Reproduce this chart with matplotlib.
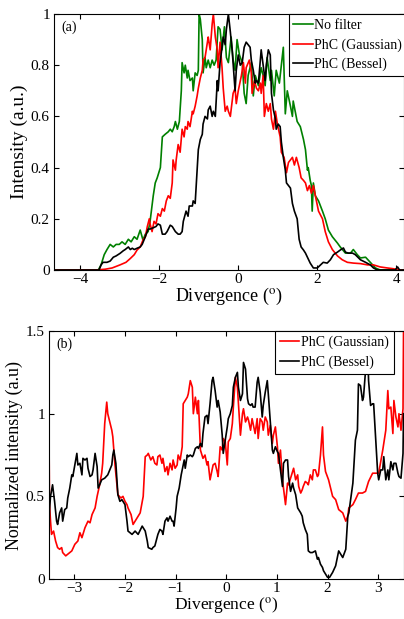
import numpy as np
import matplotlib
matplotlib.use('Agg')
import matplotlib.pyplot as plt

plt.rcParams['font.family'] = 'Liberation Serif'
plt.rcParams['mathtext.fontset'] = 'stix'

# (a) beam profiles, divergence in degrees
x_nofilter = [-4.66, -3.54, -3.47, -3.39, -3.32, -3.24, -3.16, -3.09, -3.01, -2.94, -2.86, -2.78, -2.71,
              -2.63, -2.56, -2.48, -2.41, -2.35, -2.28, -2.23, -2.15, -2.10, -2.05, -1.97, -1.92, -1.85,
              -1.77, -1.72, -1.67, -1.62, -1.59, -1.54, -1.49, -1.44, -1.42, -1.37, -1.34, -1.29, -1.27,
              -1.22, -1.16, -1.14, -1.09, -1.04, -1.01, -0.99, -0.96, -0.91, -0.89, -0.84, -0.81, -0.76,
              -0.71, -0.66, -0.61, -0.56, -0.51, -0.46, -0.41, -0.35, -0.30, -0.25, -0.18, -0.13, -0.08,
              -0.03, 0.03, 0.10, 0.15, 0.20, 0.25, 0.33, 0.38, 0.43, 0.51, 0.58, 0.63, 0.68, 0.73, 0.81,
              0.84, 0.91, 0.96, 1.04, 1.09, 1.14, 1.19, 1.24, 1.32, 1.37, 1.39, 1.44, 1.49, 1.57, 1.65,
              1.70, 1.75, 1.77, 1.82, 1.85, 1.87, 1.90, 1.95, 2.03, 2.13, 2.20, 2.28, 2.38, 2.51, 2.58,
              2.71, 2.84, 2.91, 3.01, 3.09, 3.22, 3.34, 3.47, 3.59, 4.18]
y_nofilter = [0, 0, 0.02, 0.06, 0.08, 0.10, 0.09, 0.10, 0.10, 0.11, 0.10, 0.12, 0.11,
              0.13, 0.12, 0.156, 0.117, 0.14, 0.15, 0.19, 0.29, 0.34, 0.36, 0.40, 0.52, 0.53,
              0.54, 0.55, 0.54, 0.56, 0.58, 0.55, 0.58, 0.70, 0.81, 0.77, 0.80, 0.75, 0.78,
              0.74, 0.75, 0.70, 0.77, 0.76, 0.78, 1.0, 0.98, 0.90, 0.77, 0.83, 0.79, 0.82,
              0.79, 0.82, 0.80, 0.82, 0.95, 0.94, 0.86, 0.95, 0.83, 0.81, 0.91, 0.82, 0.78,
              0.90, 0.84, 0.81, 0.69, 0.65, 0.76, 0.81, 0.68, 0.76, 0.72, 0.79, 0.76, 0.72, 0.83, 0.74,
              0.78, 0.68, 0.78, 0.73, 0.80, 0.87, 0.61, 0.70, 0.64, 0.60, 0.66, 0.62, 0.58, 0.56, 0.51,
              0.47, 0.39, 0.40, 0.35, 0.33, 0.23, 0.34, 0.29, 0.27, 0.23, 0.20, 0.156, 0.13, 0.105, 0.09,
              0.066, 0.066, 0.08, 0.06, 0.047, 0.05, 0.03, 0.008, 0, 0]

x_gauss_a = [-4.66, -3.62, -3.37, -3.19, -2.99, -2.84, -2.73, -2.63, -2.56, -2.48, -2.41, -2.35, -2.30,
             -2.25, -2.23, -2.18, -2.13, -2.08, -2.03, -1.97, -1.92, -1.87, -1.82, -1.77, -1.72, -1.67,
             -1.65, -1.59, -1.57, -1.52, -1.47, -1.42, -1.37, -1.34, -1.29, -1.27, -1.22, -1.16, -1.14,
             -1.09, -1.04, -1.01, -0.96, -0.91, -0.89, -0.84, -0.78, -0.76, -0.71, -0.66, -0.63, -0.58,
             -0.53, -0.51, -0.46, -0.41, -0.38, -0.33, -0.28, -0.25, -0.20, -0.13, -0.08, -0.05, 0.00,
             0.08, 0.13, 0.18, 0.20, 0.28, 0.33, 0.35, 0.41, 0.46, 0.51, 0.56, 0.58, 0.63, 0.66, 0.71,
             0.76, 0.81, 0.84, 0.89, 0.94, 0.99, 1.06, 1.09, 1.16, 1.22, 1.27, 1.32, 1.37, 1.42, 1.47,
             1.54, 1.59, 1.65, 1.70, 1.75, 1.80, 1.85, 1.90, 1.95, 2.03, 2.13, 2.20, 2.28, 2.38, 2.51,
             2.63, 2.76, 2.91, 3.09, 3.27, 3.42, 3.59, 3.77, 3.92, 4.10, 4.18]
y_gauss_a = [0, 0, 0.003, 0.008, 0.02, 0.03, 0.045, 0.06, 0.078, 0.09, 0.117, 0.13, 0.17,
             0.20, 0.18, 0.15, 0.19, 0.18, 0.22, 0.21, 0.24, 0.23, 0.27, 0.29, 0.28, 0.34,
             0.43, 0.39, 0.43, 0.49, 0.46, 0.55, 0.52, 0.56, 0.55, 0.58, 0.56, 0.62, 0.61,
             0.64, 0.68, 0.71, 0.75, 0.78, 0.82, 0.83, 0.89, 0.91, 0.86, 0.96, 1.0, 0.91,
             0.86, 0.79, 0.89, 0.79, 0.71, 0.62, 0.64, 0.62, 0.60, 0.69, 0.71, 0.65, 0.70,
             0.76, 0.81, 0.73, 0.79, 0.82, 0.77, 0.69, 0.74, 0.71, 0.70, 0.73, 0.69, 0.76, 0.60, 0.65,
             0.62, 0.65, 0.59, 0.55, 0.62, 0.57, 0.52, 0.46, 0.44, 0.38, 0.42, 0.43, 0.44, 0.41, 0.44,
             0.40, 0.36, 0.35, 0.34, 0.31, 0.33, 0.30, 0.33, 0.29, 0.23, 0.20, 0.15, 0.11, 0.08, 0.055,
             0.04, 0.03, 0.027, 0.025, 0.02, 0.02, 0.012, 0.008, 0.005, 0, 0]

x_bessel_a = [-4.66, -3.52, -3.47, -3.42, -3.32, -3.24, -3.16, -3.09, -2.99, -2.91, -2.86, -2.78, -2.73,
              -2.68, -2.63, -2.56, -2.48, -2.43, -2.35, -2.28, -2.23, -2.15, -2.08, -2.03, -1.97, -1.92,
              -1.85, -1.80, -1.72, -1.67, -1.59, -1.52, -1.47, -1.42, -1.39, -1.32, -1.27, -1.24, -1.16,
              -1.14, -1.09, -1.04, -1.01, -0.96, -0.91, -0.89, -0.84, -0.78, -0.76, -0.71, -0.66, -0.63,
              -0.58, -0.53, -0.51, -0.46, -0.41, -0.38, -0.33, -0.30, -0.25, -0.20, -0.15, -0.08, -0.05,
              0.00, 0.05, 0.10, 0.15, 0.20, 0.25, 0.30, 0.33, 0.38, 0.43, 0.46, 0.51, 0.56, 0.58, 0.63,
              0.68, 0.71, 0.76, 0.81, 0.84, 0.89, 0.94, 0.96, 1.01, 1.06, 1.09, 1.14, 1.19, 1.22, 1.27,
              1.32, 1.37, 1.42, 1.49, 1.54, 1.59, 1.65, 1.70, 1.75, 1.82, 1.90, 2.00, 2.08, 2.15, 2.25,
              2.33, 2.41, 2.51, 2.58, 2.66, 2.71, 2.78, 2.89, 2.96, 3.09, 3.22, 3.34, 3.42, 3.52, 3.97,
              4.03, 4.08, 4.18]
y_bessel_a = [0, 0, 0.02, 0.03, 0.03, 0.035, 0.05, 0.055, 0.065, 0.075, 0.08, 0.09, 0.08,
              0.085, 0.08, 0.085, 0.09, 0.10, 0.13, 0.16, 0.16, 0.165, 0.17, 0.18, 0.175, 0.14,
              0.14, 0.15, 0.175, 0.17, 0.15, 0.14, 0.14, 0.15, 0.19, 0.23, 0.21, 0.25, 0.25,
              0.27, 0.26, 0.39, 0.47, 0.51, 0.53, 0.57, 0.60, 0.59, 0.625, 0.64, 0.60, 0.62,
              0.60, 0.74, 0.70, 0.81, 0.87, 0.91, 0.88, 0.94, 1.0, 0.93, 0.85, 0.70, 0.78,
              0.84, 0.80, 0.81, 0.87, 0.89, 0.88, 0.87, 0.82, 0.78, 0.73, 0.74, 0.73, 0.82, 0.86, 0.80,
              0.74, 0.80, 0.86, 0.84, 0.69, 0.625, 0.59, 0.55, 0.57, 0.56, 0.50, 0.44, 0.39, 0.34, 0.33,
              0.32, 0.26, 0.23, 0.20, 0.12, 0.09, 0.078, 0.066, 0.05, 0.027, 0.008, 0.008, 0.02, 0.03, 0.027,
              0.04, 0.06, 0.07, 0.078, 0.086, 0.07, 0.066, 0.066, 0.06, 0.04, 0.03, 0.02, 0.008, 0, 0,
              0.012, 0, 0]

# (b) normalized profiles
x_gauss_b = [-3.50, -3.49, -3.47, -3.45, -3.41, -3.37, -3.33, -3.29, -3.25, -3.23, -3.17, -3.13, -3.09,
             -3.05, -2.99, -2.93, -2.89, -2.85, -2.79, -2.73, -2.69, -2.65, -2.59, -2.55, -2.50, -2.46,
             -2.44, -2.40, -2.36, -2.34, -2.30, -2.26, -2.24, -2.20, -2.16, -2.14, -2.08, -2.04, -2.00,
             -1.96, -1.94, -1.88, -1.84, -1.80, -1.76, -1.70, -1.64, -1.60, -1.56, -1.54, -1.49, -1.45,
             -1.41, -1.37, -1.35, -1.31, -1.27, -1.25, -1.21, -1.17, -1.15, -1.11, -1.07, -1.05, -1.01,
             -0.97, -0.95, -0.91, -0.87, -0.85, -0.81, -0.77, -0.75, -0.71, -0.67, -0.65, -0.61, -0.57,
             -0.55, -0.51, -0.48, -0.46, -0.42, -0.38, -0.36, -0.32, -0.28, -0.26, -0.22, -0.18, -0.16,
             -0.12, -0.08, -0.06, -0.02, 0.02, 0.04, 0.08, 0.12, 0.14, 0.18, 0.22, 0.24, 0.28, 0.32,
             0.34, 0.38, 0.42, 0.44, 0.48, 0.51, 0.53, 0.57, 0.61, 0.63, 0.67, 0.71, 0.73, 0.77, 0.81,
             0.83, 0.87, 0.91, 0.93, 0.97, 1.01, 1.03, 1.07, 1.11, 1.17, 1.21, 1.23, 1.27, 1.33, 1.37,
             1.41, 1.43, 1.47, 1.50, 1.52, 1.56, 1.60, 1.62, 1.66, 1.70, 1.72, 1.76, 1.80, 1.82, 1.86,
             1.90, 1.92, 1.96, 2.02, 2.10, 2.16, 2.22, 2.30, 2.36, 2.40, 2.42, 2.50, 2.55, 2.61, 2.69,
             2.75, 2.81, 2.89, 2.95, 3.01, 3.09, 3.15, 3.19, 3.21, 3.25, 3.29, 3.31, 3.35, 3.39, 3.41,
             3.45, 3.49, 3.50]
y_gauss_b = [0.87, 0.45, 0.35, 0.27, 0.29, 0.23, 0.19, 0.18, 0.19, 0.16, 0.14, 0.15, 0.16,
             0.17, 0.21, 0.23, 0.28, 0.25, 0.31, 0.35, 0.34, 0.39, 0.43, 0.50, 0.57, 0.64,
             0.70, 0.94, 1.07, 1.00, 0.95, 0.90, 0.86, 0.70, 0.57, 0.51, 0.49, 0.50, 0.47,
             0.45, 0.43, 0.39, 0.33, 0.35, 0.37, 0.40, 0.50, 0.74, 0.75, 0.76, 0.72, 0.74,
             0.70, 0.69, 0.74, 0.75, 0.70, 0.73, 0.65, 0.68, 0.63, 0.70, 0.66, 0.72, 0.67,
             0.69, 0.75, 0.72, 0.80, 1.06, 1.08, 1.10, 1.12, 1.20, 1.16, 1.00, 1.10, 1.00,
             1.08, 0.78, 0.75, 0.73, 0.75, 0.69, 0.71, 0.60, 0.66, 0.69, 0.70, 0.65, 0.62,
             0.80, 0.78, 0.85, 0.83, 0.69, 0.83, 0.85, 0.94, 1.04, 1.22, 1.16, 1.06, 0.87, 1.00,
             1.03, 0.95, 0.98, 0.96, 0.90, 0.97, 0.94, 0.88, 0.97, 0.85, 0.97, 0.95, 0.90, 0.98, 0.95,
             0.87, 0.93, 0.82, 0.87, 0.92, 0.80, 0.70, 0.78, 0.60, 0.45, 0.58, 0.57, 0.61, 0.67, 0.60,
             0.63, 0.56, 0.52, 0.54, 0.56, 0.59, 0.58, 0.57, 0.63, 0.60, 0.66, 0.66, 0.62, 0.63, 0.75,
             0.92, 0.75, 0.65, 0.60, 0.50, 0.48, 0.42, 0.40, 0.35, 0.38, 0.43, 0.45, 0.48, 0.52, 0.52,
             0.53, 0.59, 0.64, 0.64, 0.64, 0.78, 0.90, 1.14, 1.03, 1.04, 0.88, 1.08, 0.98, 0.92, 1.00,
             0.90, 1.03, 1.50]

x_bessel_b = [-3.50, -3.49, -3.47, -3.43, -3.39, -3.35, -3.33, -3.29, -3.25, -3.23, -3.19, -3.15, -3.13,
              -3.09, -3.05, -3.03, -2.99, -2.95, -2.93, -2.89, -2.85, -2.83, -2.79, -2.75, -2.73, -2.69,
              -2.65, -2.63, -2.59, -2.55, -2.53, -2.50, -2.46, -2.40, -2.34, -2.30, -2.26, -2.24, -2.22,
              -2.18, -2.14, -2.10, -2.06, -2.00, -1.96, -1.94, -1.86, -1.80, -1.74, -1.66, -1.60, -1.56,
              -1.54, -1.47, -1.45, -1.41, -1.35, -1.31, -1.27, -1.25, -1.21, -1.17, -1.15, -1.11, -1.07,
              -1.05, -1.03, -0.99, -0.97, -0.93, -0.89, -0.85, -0.83, -0.81, -0.77, -0.75, -0.71, -0.67,
              -0.65, -0.61, -0.57, -0.55, -0.51, -0.48, -0.46, -0.42, -0.38, -0.36, -0.32, -0.28, -0.26,
              -0.22, -0.18, -0.16, -0.12, -0.08, -0.06, -0.02, 0.02, 0.04, 0.08, 0.12, 0.14, 0.18, 0.22,
              0.24, 0.28, 0.32, 0.34, 0.38, 0.42, 0.44, 0.48, 0.51, 0.53, 0.57, 0.61, 0.63, 0.67, 0.71,
              0.73, 0.77, 0.81, 0.83, 0.87, 0.91, 0.93, 0.97, 1.01, 1.03, 1.07, 1.11, 1.13, 1.17, 1.21,
              1.23, 1.27, 1.31, 1.33, 1.37, 1.41, 1.45, 1.47, 1.50, 1.52, 1.56, 1.60, 1.62, 1.66, 1.70,
              1.76, 1.80, 1.82, 1.86, 1.90, 1.92, 1.96, 2.00, 2.04, 2.10, 2.16, 2.22, 2.30, 2.36, 2.40,
              2.42, 2.50, 2.55, 2.59, 2.61, 2.65, 2.69, 2.71, 2.75, 2.79, 2.81, 2.85, 2.89, 2.91, 2.95,
              2.99, 3.01, 3.05, 3.09, 3.11, 3.15, 3.19, 3.21, 3.25, 3.29, 3.31, 3.35, 3.39, 3.41, 3.45,
              3.49, 3.50]
y_bessel_b = [0.28, 0.42, 0.50, 0.57, 0.47, 0.35, 0.33, 0.40, 0.43, 0.35, 0.42, 0.43, 0.49,
              0.55, 0.63, 0.62, 0.69, 0.76, 0.69, 0.70, 0.63, 0.73, 0.72, 0.73, 0.67, 0.62,
              0.63, 0.66, 0.76, 0.68, 0.55, 0.57, 0.60, 0.61, 0.63, 0.66, 0.69, 0.75, 0.78,
              0.70, 0.51, 0.47, 0.48, 0.45, 0.35, 0.29, 0.27, 0.29, 0.27, 0.32, 0.29, 0.23,
              0.19, 0.18, 0.19, 0.20, 0.27, 0.30, 0.29, 0.27, 0.35, 0.37, 0.35, 0.38, 0.35,
              0.35, 0.32, 0.43, 0.50, 0.55, 0.63, 0.69, 0.72, 0.67, 0.75, 0.74, 0.75, 0.74,
              0.75, 0.79, 0.80, 0.79, 0.82, 0.80, 0.88, 0.98, 0.99, 0.94, 1.06, 1.20, 1.22,
              1.14, 1.04, 1.08, 1.01, 0.87, 0.76, 0.84, 0.92, 0.97, 1.00, 1.05, 1.16, 1.22, 1.25,
              1.16, 1.08, 1.12, 1.31, 1.27, 1.09, 1.06, 1.05, 1.06, 1.04, 1.04, 1.19, 1.22, 1.13, 0.98,
              1.05, 1.13, 1.20, 1.12, 0.95, 0.78, 0.76, 0.80, 0.77, 0.76, 0.66, 0.56, 0.70, 0.72, 0.72,
              0.62, 0.53, 0.58, 0.55, 0.51, 0.43, 0.41, 0.40, 0.38, 0.34, 0.30, 0.27, 0.17, 0.16, 0.16,
              0.17, 0.12, 0.13, 0.09, 0.07, 0.05, 0.03, 0.01, 0.01, 0.04, 0.08, 0.17, 0.13, 0.18, 0.38,
              0.40, 0.58, 0.84, 0.90, 1.18, 1.17, 1.08, 1.10, 1.26, 1.42, 1.20, 1.05, 1.06, 1.06, 0.85,
              0.64, 0.60, 0.66, 0.66, 0.74, 0.60, 0.66, 0.60, 0.71, 0.66, 0.70, 0.70, 0.64, 0.62, 0.61,
              0.76, 1.00]

xticks_a = [-4, -2, 0, 2, 4]
yticks_a = [0, 0.2, 0.4, 0.6, 0.8, 1]
yticklabels_a = ['0', '0.2', '0.4', '0.6', '0.8', '1']
xticks_b = [-3, -2, -1, 0, 1, 2, 3]
yticks_b = [0, 0.5, 1, 1.5]
yticklabels_b = ['0', '0.5', '1', '1.5']

green = '#008000'
lw = 1.2

fig = plt.figure(figsize=(4.04, 6.19), dpi=100)


def style_axes(ax):
    ax.tick_params(direction='in', top=True, right=True, length=3.5, width=0.8,
                   labelsize=11, pad=3)
    ax.tick_params(axis='x', pad=2)
    for s in ax.spines.values():
        s.set_linewidth(0.8)


def add_legend(ax, xanchor):
    leg = ax.legend(loc='upper right', bbox_to_anchor=(xanchor, 1.0), borderaxespad=0,
                    fancybox=False, edgecolor='k', framealpha=1, fontsize=10,
                    handlelength=1.4, handletextpad=0.1, labelspacing=0.45, borderpad=0.35)
    leg.get_frame().set_linewidth(0.8)


# top panel
ax1 = fig.add_axes([0.1337, 0.5638, 0.8651, 0.4136])
ax1.plot(x_nofilter, y_nofilter, color=green, lw=lw, label='No filter')
ax1.plot(x_gauss_a, y_gauss_a, color='r', lw=lw, label='PhC (Gaussian)')
ax1.plot(x_bessel_a, y_bessel_a, color='k', lw=lw, label='PhC (Bessel)')
ax1.set_xlim(-4.66, 4.18)
ax1.set_ylim(0, 1)
ax1.set_xticks(xticks_a)
ax1.set_yticks(yticks_a)
ax1.set_yticklabels(yticklabels_a)
style_axes(ax1)
ax1.set_xlabel(r'Divergence ($^{\rm o}$)', fontsize=13, labelpad=0)
ax1.set_ylabel('Intensity (a.u.)', fontsize=14, labelpad=2)
ax1.text(0.02, 0.975, '(a)', transform=ax1.transAxes, fontsize=10, va='top', ha='left')
add_legend(ax1, 1.01)

# bottom panel
ax2 = fig.add_axes([0.1213, 0.0646, 0.8775, 0.4006])
ax2.plot(x_gauss_b, y_gauss_b, color='r', lw=lw, label='PhC (Gaussian)')
ax2.plot(x_bessel_b, y_bessel_b, color='k', lw=lw, label='PhC (Bessel)')
ax2.set_xlim(-3.5, 3.5)
ax2.set_ylim(0, 1.5)
ax2.set_xticks(xticks_b)
ax2.set_yticks(yticks_b)
ax2.set_yticklabels(yticklabels_b)
style_axes(ax2)
ax2.set_xlabel(r'Divergence ($^{\rm o}$)', fontsize=12.5, labelpad=0)
ax2.set_ylabel('Normalized intensity (a.u)', fontsize=13, labelpad=2)
ax2.text(0.02, 0.975, '(b)', transform=ax2.transAxes, fontsize=10, va='top', ha='left')
add_legend(ax2, 0.972)

fig.savefig('out.png', dpi=100)
